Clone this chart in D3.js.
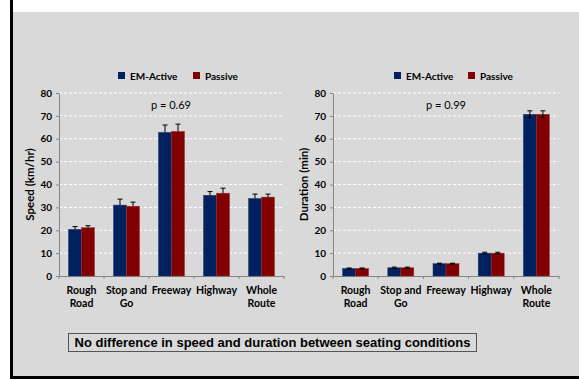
<!DOCTYPE html>
<html>
<head>
<meta charset="utf-8">
<script src="https://cdn.jsdelivr.net/npm/d3@7"></script>
<style>
body { margin: 0; background: #fff; }
svg { display: block; }
</style>
</head>
<body>
<div id="chart"></div>
<script>
var categories = ["Rough Road", "Stop and Go", "Freeway", "Highway", "Whole Route"];
var catLines = [["Rough", "Road"], ["Stop and", "Go"], ["Freeway"], ["Highway"], ["Whole", "Route"]];
var seriesNames = ["EM-Active", "Passive"];
var yTicks = [0, 10, 20, 30, 40, 50, 60, 70, 80];

var speedActive = [20.4, 31.0, 62.8, 35.3, 33.9];
var speedActiveErr = [1.2, 2.6, 3.2, 1.6, 1.9];
var speedPassive = [21.1, 30.5, 63.2, 36.2, 34.5];
var speedPassiveErr = [0.9, 1.8, 3.2, 2.2, 1.3];

var durActive = [3.3, 3.6, 5.4, 10.0, 70.7];
var durActiveErr = [0.2, 0.3, 0.2, 0.4, 1.5];
var durPassive = [3.3, 3.6, 5.4, 10.0, 70.7];
var durPassiveErr = [0.2, 0.3, 0.2, 0.4, 1.5];

var colors = ["#002060", "#800000"];
var font = "Lato, 'Open Sans', sans-serif";

var svg = d3.select('#chart').append('svg')
  .attr('width', 579)
  .attr('height', 379);

// panel background and frame
svg.append('rect').attr('x', 13).attr('y', 12).attr('width', 566).attr('height', 364).attr('fill', '#d9d9d9');
svg.append('rect').attr('x', 10).attr('y', 0).attr('width', 3).attr('height', 379).attr('fill', '#000');
svg.append('rect').attr('x', 10).attr('y', 376).attr('width', 569).attr('height', 3).attr('fill', '#000');

function drawChart(opt)
{
  var g = svg.append('g');
  var x = d3.scaleBand().domain(categories).range([opt.left, opt.right]);
  var y = d3.scaleLinear().domain([0, 80]).range([opt.bottom, opt.top]);
  var barW = 13;

  // dashed gridlines
  g.selectAll('line.grid').data(yTicks.slice(1)).enter().append('line')
    .attr('x1', opt.left).attr('x2', opt.right)
    .attr('y1', function (d) { return y(d); })
    .attr('y2', function (d) { return y(d); })
    .attr('stroke', '#fff').attr('stroke-width', 1)
    .attr('stroke-dasharray', '3,2');

  // y axis
  var yAxis = g.append('g').attr('transform', 'translate(' + opt.left + ',0)')
    .call(d3.axisLeft(y).tickValues(yTicks).tickSize(3).tickPadding(4));
  yAxis.select('.domain').attr('stroke', '#868686');
  yAxis.selectAll('.tick line').attr('stroke', '#868686');
  yAxis.selectAll('text').attr('font-family', font).attr('font-weight', 'bold')
    .attr('font-size', '10px').attr('fill', '#000');

  // x axis
  var xAxis = g.append('g').attr('transform', 'translate(0,' + opt.bottom + ')')
    .call(d3.axisBottom(x).tickSize(0).tickFormat(''));
  xAxis.select('.domain').attr('stroke', '#868686');
  var bounds = categories.map(function (c) { return x(c); }).concat([opt.right]);
  g.selectAll('line.xt').data(bounds).enter().append('line')
    .attr('x1', function (d) { return d; }).attr('x2', function (d) { return d; })
    .attr('y1', opt.bottom).attr('y2', opt.bottom + 3)
    .attr('stroke', '#868686');

  g.selectAll('text.cat').data(catLines).enter().append('text')
    .attr('x', function (d, i) { return x(categories[i]) + x.bandwidth() / 2; })
    .attr('y', opt.bottom + 18)
    .attr('text-anchor', 'middle')
    .attr('font-family', font).attr('font-weight', 'bold').attr('font-size', '10.5px')
    .each(function (d) {
      var t = d3.select(this);
      d.forEach(function (line, k) {
        t.append('tspan').attr('x', t.attr('x')).attr('dy', k == 0 ? 0 : 13).text(line);
      });
    });

  // bars
  var series = [opt.a, opt.b];
  var errs = [opt.aErr, opt.bErr];
  series.forEach(function (vals, s) {
    var bx = function (d, i) { return x(categories[i]) + x.bandwidth() / 2 - barW + s * barW; };
    g.selectAll('rect.s' + s).data(vals).enter().append('rect')
      .attr('x', bx)
      .attr('y', function (d) { return y(d); })
      .attr('width', barW)
      .attr('height', function (d) { return opt.bottom - y(d); })
      .attr('fill', colors[s])
      .attr('stroke', s == 0 ? '#2a3f6e' : '#9a3030').attr('stroke-width', 0.5);

    // error bars
    g.selectAll('path.e' + s).data(vals).enter().append('path')
      .attr('d', function (d, i) {
        var cx = bx(d, i) + barW / 2;
        var hi = y(d + errs[s][i]);
        var lo = opt.both ? y(d - errs[s][i]) : y(d);
        return 'M' + cx + ',' + lo + 'V' + hi +
          'M' + (cx - 2.5) + ',' + hi + 'H' + (cx + 2.5) +
          (opt.both ? 'M' + (cx - 2.5) + ',' + lo + 'H' + (cx + 2.5) : '');
      })
      .attr('stroke', '#000').attr('stroke-width', 1).attr('fill', 'none');
  });

  // legend
  var lg = g.append('g').attr('transform', 'translate(' + opt.legendX + ',' + opt.legendY + ')');
  seriesNames.forEach(function (name, s) {
    var off = s * opt.legendGap;
    lg.append('rect').attr('x', off).attr('y', -4).attr('width', 7).attr('height', 7).attr('fill', colors[s]);
    lg.append('text').attr('x', off + 12).attr('y', 3.5)
      .attr('font-family', font).attr('font-weight', 'bold').attr('font-size', '10px')
      .text(name);
  });

  // p value
  g.append('text').attr('x', opt.pX).attr('y', opt.top + 16)
    .attr('text-anchor', 'middle')
    .attr('font-family', font).attr('font-size', '11px')
    .text(opt.pText);

  // y title
  g.append('text')
    .attr('transform', 'translate(' + opt.titleX + ',' + ((opt.top + opt.bottom) / 2) + ') rotate(-90)')
    .attr('text-anchor', 'middle')
    .attr('font-family', font).attr('font-weight', 'bold').attr('font-size', '11.5px')
    .text(opt.title);
}

drawChart({
  left: 59, right: 284, top: 93, bottom: 276,
  a: speedActive, aErr: speedActiveErr, b: speedPassive, bErr: speedPassiveErr,
  both: false,
  legendX: 118, legendY: 76, legendGap: 75,
  pX: 171, pText: 'p = 0.69',
  titleX: 34, title: 'Speed (km/hr)'
});

drawChart({
  left: 333, right: 559, top: 93, bottom: 276,
  a: durActive, aErr: durActiveErr, b: durPassive, bErr: durPassiveErr,
  both: true,
  legendX: 394, legendY: 76, legendGap: 74,
  pX: 446, pText: 'p = 0.99',
  titleX: 308, title: 'Duration (min)'
});

// caption box
svg.append('rect').attr('x', 68.5).attr('y', 333.5).attr('width', 408).attr('height', 18)
  .attr('fill', 'none').attr('stroke', '#555').attr('stroke-width', 1);
svg.append('text').attr('x', 272.5).attr('y', 347)
  .attr('text-anchor', 'middle')
  .attr('font-family', "'Liberation Sans', Arial, sans-serif").attr('font-weight', 'bold').attr('font-size', '13px')
  .text('No difference in speed and duration between seating conditions');
</script>
</body>
</html>
